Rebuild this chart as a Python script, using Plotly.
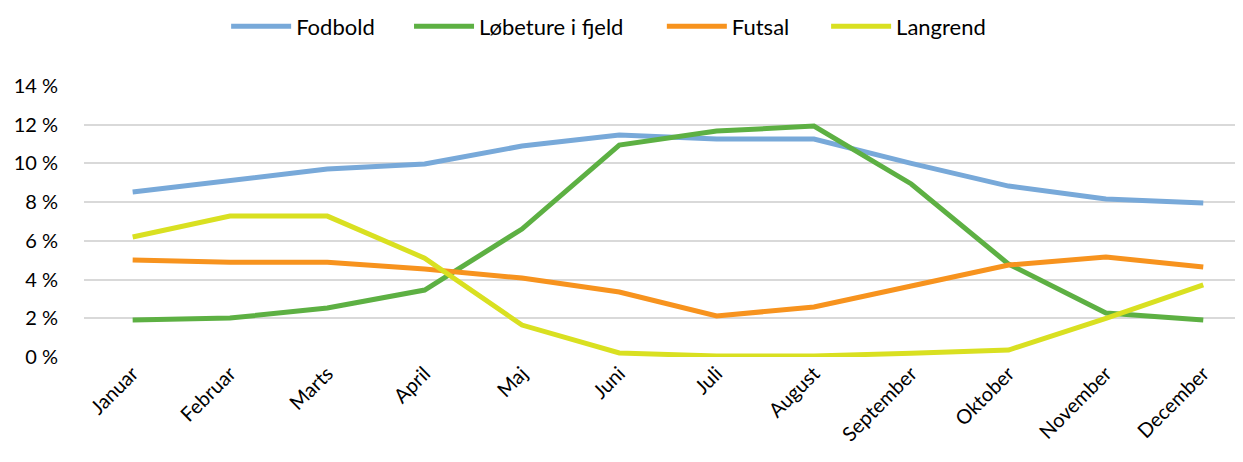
import plotly.graph_objects as go

months = ["Januar", "Februar", "Marts", "April", "Maj", "Juni", "Juli",
          "August", "September", "Oktober", "November", "December"]

fodbold = [8.52, 9.14, 9.71, 9.97, 10.9, 11.47, 11.26, 11.26, 10.0, 8.83, 8.16, 7.95]
lobeture = [1.91, 2.01, 2.53, 3.46, 6.61, 10.95, 11.67, 11.93, 8.94, 4.8, 2.27, 1.91]
futsal = [5.01, 4.9, 4.9, 4.55, 4.08, 3.36, 2.12, 2.58, 3.67, 4.75, 5.17, 4.65]
langrend = [6.2, 7.28, 7.28, 5.11, 1.65, 0.21, 0.05, 0.05, 0.2, 0.36, 2.0, 3.72]

series = [
    ("Fodbold", fodbold, "#78A9D9"),
    ("Løbeture i fjeld", lobeture, "#5DB043"),
    ("Futsal", futsal, "#F7931E"),
    ("Langrend", langrend, "#D9E021"),
]

# one legend per series so the spacing between entries can follow the original
legend_ids = ["legend", "legend2", "legend3", "legend4"]
legend_x = [0.122, 0.279, 0.496, 0.637]

fig = go.Figure()
for (name, vals, color), lid in zip(series, legend_ids):
    fig.add_trace(go.Scatter(
        x=months, y=vals, name=name, mode="lines", showlegend=True,
        line=dict(color=color, width=5), legend=lid,
    ))

legend_style = dict(orientation="h", xanchor="left", yref="container", y=0.96,
                    yanchor="middle", font=dict(size=22), itemwidth=60,
                    bgcolor="rgba(0,0,0,0)")

fig.update_layout(
    width=1243, height=462,
    margin=dict(l=76, r=2, t=78, b=113),
    showlegend=True,
    paper_bgcolor="white", plot_bgcolor="white",
    font=dict(family="Lato, Open Sans, sans-serif", size=20, color="#000000"),
    xaxis=dict(range=[-0.5, 11.47], tickangle=-45, showgrid=False, automargin=False,
               showline=False, ticks="", zeroline=False),
    yaxis=dict(range=[0, 14], dtick=2, ticksuffix=" %", showgrid=True, automargin=False,
               gridcolor="#D9D9D9", gridwidth=2, zeroline=False,
               showline=False, ticks="", ticklabelstandoff=25),
)
for lid, lx in zip(legend_ids, legend_x):
    fig.update_layout({lid: dict(legend_style, x=lx)})

fig.write_html("out.html")
